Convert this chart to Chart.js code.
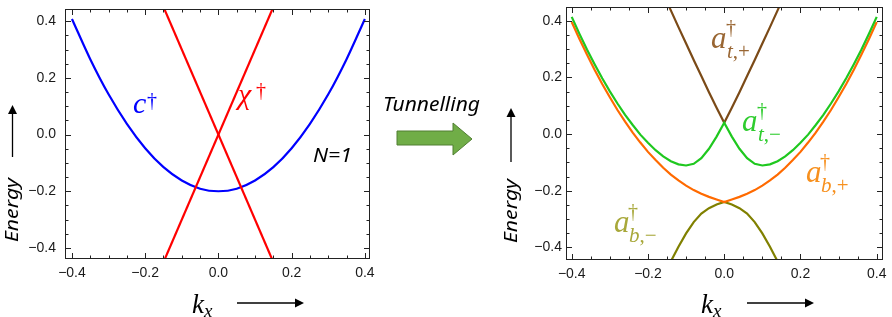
<!DOCTYPE html>
<html>
<head>
<meta charset="utf-8">
<script src="https://cdn.jsdelivr.net/npm/chart.js@4.4.1/dist/chart.umd.min.js"></script>
<style>
  html, body { margin: 0; padding: 0; background: #fff; }
  #wrap { position: relative; width: 892px; height: 317px; overflow: hidden; }
  canvas { position: absolute; top: 0; }
  #left { left: 0; }
  #right { left: 500px; }
  #notes { position: absolute; left: 0; top: 0; }
</style>
</head>
<body>
<div id="wrap">
  <canvas id="left" width="380" height="317"></canvas>
  <canvas id="right" width="392" height="317"></canvas>
  <svg id="notes" width="892" height="317">
    <!-- axis arrows -->
    <g stroke="#000" stroke-width="1.3" fill="#000">
      <line x1="12.5" y1="157" x2="12.5" y2="113"/>
      <polygon points="12.5,105 8,114 17,114" stroke="none"/>
      <line x1="511" y1="162" x2="511" y2="116"/>
      <polygon points="511,108 506.5,117 515.5,117" stroke="none"/>
      <line x1="237" y1="303" x2="296" y2="303"/>
      <polygon points="304,303 295,298.5 295,307.5" stroke="none"/>
      <line x1="747" y1="303" x2="806" y2="303"/>
      <polygon points="814,303 805,298.5 805,307.5" stroke="none"/>
    </g>
    <g font-family="Noto Sans" font-style="italic" fill="#000">
      <text x="0" y="0" font-size="18" textLength="64" lengthAdjust="spacingAndGlyphs" transform="translate(18,242) rotate(-90)">Energy</text>
      <text x="0" y="0" font-size="18" textLength="64" lengthAdjust="spacingAndGlyphs" transform="translate(517,243) rotate(-90)">Energy</text>
      <text x="383" y="111" font-size="20" textLength="97" lengthAdjust="spacingAndGlyphs">Tunnelling</text>
      <text x="313" y="162" font-size="20" textLength="39" lengthAdjust="spacingAndGlyphs">N=1</text>
    </g>
    <polygon points="397,131 453,131 453,123 472,139 453,155 453,145 397,145" fill="#70ad47" stroke="#507e32" stroke-width="1"/>
    <g font-family="Liberation Serif" font-style="italic">
      <text x="192" y="313" font-size="27" fill="#000">k<tspan font-size="19" dy="4">x</tspan></text>
      <text x="701" y="313" font-size="27" fill="#000">k<tspan font-size="19" dy="4">x</tspan></text>

      <text x="133" y="113" font-size="30" fill="#0000ff">c</text>
      <text x="147" y="107" font-size="20" font-style="normal" fill="#0000ff">†</text>
      <text x="238" y="104" font-size="30" fill="#ff0000">χ</text>
      <text x="256" y="97" font-size="20" font-style="normal" fill="#ff0000">†</text>

      <text x="711" y="48" font-size="31" fill="#996633">a</text>
      <text x="726" y="34" font-size="20" font-style="normal" fill="#996633">†</text>
      <text x="727" y="58" font-size="21" fill="#996633">t<tspan font-style="normal">,+</tspan></text>

      <text x="742" y="131" font-size="31" fill="#2ecc2e">a</text>
      <text x="757" y="117" font-size="20" font-style="normal" fill="#2ecc2e">†</text>
      <text x="758" y="141" font-size="21" fill="#2ecc2e">t<tspan font-style="normal">,−</tspan></text>

      <text x="806" y="182" font-size="31" fill="#f7901e">a</text>
      <text x="820" y="168" font-size="20" font-style="normal" fill="#f7901e">†</text>
      <text x="821" y="192" font-size="21" fill="#f7901e">b<tspan font-style="normal">,+</tspan></text>

      <text x="614" y="232" font-size="31" fill="#a8a83a">a</text>
      <text x="628" y="218" font-size="20" font-style="normal" fill="#a8a83a">†</text>
      <text x="629" y="242" font-size="21" fill="#a8a83a">b<tspan font-style="normal">,−</tspan></text>
    </g>
  </svg>
</div>
<script>
// frame ticks
const tickMajor = [-0.4, -0.2, 0, 0.2, 0.4];
const tickMinor = [-0.35, -0.3, -0.25, -0.15, -0.1, -0.05, 0.05, 0.1, 0.15, 0.25, 0.3, 0.35];

// left panel (N=1, no tunnelling)
const kLeft = [-0.40, -0.35, -0.30, -0.25, -0.20, -0.15, -0.10, -0.05, 0, 0.05, 0.10, 0.15, 0.20, 0.25, 0.30, 0.35, 0.40];
const cBand = [0.408, 0.266, 0.142, 0.038, -0.048, -0.115, -0.162, -0.191, -0.200, -0.191, -0.162, -0.115, -0.048, 0.038, 0.142, 0.266, 0.408];
const chiK = [-0.16, 0.16];
const chiRise = [-0.48, 0.48];
const chiFall = [0.48, -0.48];

// right panel (with tunnelling)
const kRight = [-0.40, -0.38, -0.36, -0.34, -0.32, -0.30, -0.28, -0.26, -0.24, -0.22, -0.20, -0.18, -0.16, -0.14, -0.12, -0.10, -0.08, -0.06, -0.04, -0.02, 0,
                0.02, 0.04, 0.06, 0.08, 0.10, 0.12, 0.14, 0.16, 0.18, 0.20, 0.22, 0.24, 0.26, 0.28, 0.30, 0.32, 0.34, 0.36, 0.38, 0.40];
const bPlus = [0.396, 0.337, 0.281, 0.227, 0.177, 0.130, 0.085, 0.044, 0.005, -0.030, -0.063, -0.092, -0.119, -0.143, -0.164, -0.182, -0.198, -0.211, -0.222, -0.231, -0.240,
               -0.231, -0.222, -0.211, -0.198, -0.182, -0.164, -0.143, -0.119, -0.092, -0.063, -0.030, 0.005, 0.044, 0.085, 0.130, 0.177, 0.227, 0.281, 0.337, 0.396];
const tMinus = [0.414, 0.355, 0.299, 0.247, 0.197, 0.151, 0.108, 0.068, 0.032, -0.002, -0.031, -0.057, -0.079, -0.096, -0.107, -0.111, -0.105, -0.085, -0.052, -0.009, 0.040,
                -0.009, -0.052, -0.085, -0.105, -0.111, -0.107, -0.096, -0.079, -0.057, -0.031, -0.002, 0.032, 0.068, 0.108, 0.151, 0.197, 0.247, 0.299, 0.355, 0.414];
const kInner = [-0.16, -0.14, -0.12, -0.10, -0.08, -0.06, -0.04, -0.02, 0, 0.02, 0.04, 0.06, 0.08, 0.10, 0.12, 0.14, 0.16];
const tPlus = [0.496, 0.437, 0.378, 0.320, 0.262, 0.205, 0.148, 0.093, 0.040, 0.093, 0.148, 0.205, 0.262, 0.320, 0.378, 0.437, 0.496];
const bMinus = [-0.504, -0.450, -0.398, -0.351, -0.311, -0.281, -0.262, -0.249, -0.240, -0.249, -0.262, -0.281, -0.311, -0.351, -0.398, -0.450, -0.504];

function pts(xs, ys) {
    return xs.map((x, i) => ({ x: x, y: ys[i] }));
}

function fmt(v) {
    return (v < 0 ? "\u2212" : "") + Math.abs(v).toFixed(1);
}

// mathematica style frame with inward ticks on all sides
const framePlugin = {
    id: "frame",
    afterDatasetsDraw(chart) {
        const ctx = chart.ctx;
        const a = chart.chartArea;
        const xs = chart.scales.x;
        const ys = chart.scales.y;
        ctx.save();
        ctx.strokeStyle = "#222";
        ctx.lineWidth = 1;
        ctx.strokeRect(Math.round(a.left) + 0.5, Math.round(a.top) + 0.5,
                       Math.round(a.right - a.left) - 1, Math.round(a.bottom - a.top) - 1);
        ctx.beginPath();
        const all = tickMajor.map(v => [v, 6]).concat(tickMinor.map(v => [v, 3.5]));
        all.forEach(([v, len]) => {
            const px = Math.round(xs.getPixelForValue(v)) + 0.5;
            ctx.moveTo(px, a.bottom); ctx.lineTo(px, a.bottom - len);
            ctx.moveTo(px, a.top); ctx.lineTo(px, a.top + len);
            const py = Math.round(ys.getPixelForValue(v)) + 0.5;
            ctx.moveTo(a.left, py); ctx.lineTo(a.left + len, py);
            ctx.moveTo(a.right, py); ctx.lineTo(a.right - len, py);
        });
        ctx.stroke();
        ctx.restore();
    }
};

function axis(min, max, size, pad, isY) {
    return {
        type: "linear",
        min: min,
        max: max,
        grid: { display: false, drawTicks: false },
        border: { display: false },
        afterBuildTicks: s => { s.ticks = tickMajor.map(v => ({ value: v })); },
        afterFit: s => {
            if (isY) s.width = size; else s.height = size;
            s.paddingTop = 0; s.paddingBottom = 0; s.paddingLeft = 0; s.paddingRight = 0;
        },
        ticks: {
            padding: pad,
            color: "#1a1a1a",
            font: { family: "Liberation Sans", size: 14 },
            maxRotation: 0,
            autoSkip: false,
            callback: v => fmt(v)
        }
    };
}

function line(data, color, extra) {
    return Object.assign({
        data: data,
        borderColor: color,
        borderWidth: 2.2,
        pointRadius: 0,
        fill: false,
        tension: 0,
        clip: 0
    }, extra || {});
}

function opts(xr, yr, yWidth, xHeight, padding, yPad) {
    return {
        responsive: false,
        animation: false,
        events: [],
        layout: { padding: padding },
        plugins: { legend: { display: false }, tooltip: { enabled: false } },
        scales: {
            x: axis(xr[0], xr[1], xHeight, 6, false),
            y: axis(yr[0], yr[1], yWidth, yPad, true)
        }
    };
}

new Chart(document.getElementById("left"), {
    type: "line",
    data: {
        datasets: [
            line(pts(chiK, chiRise), "#ff0000"),
            line(pts(chiK, chiFall), "#ff0000"),
            line(pts(kLeft, cBand), "#0000ff", { cubicInterpolationMode: "monotone" })
        ]
    },
    options: opts([-0.419, 0.414], [-0.439, 0.443], 65, 58, { left: 0, right: 10, top: 9, bottom: 0 }, 9),
    plugins: [framePlugin]
});

new Chart(document.getElementById("right"), {
    type: "line",
    data: {
        datasets: [
            line(pts(kRight, tMinus), "#1fc81f"),
            line(pts(kInner, tPlus), "#7b4a17"),
            line(pts(kRight, bPlus), "#ff6a00"),
            line(pts(kInner, bMinus), "#808000")
        ]
    },
    options: opts([-0.415, 0.4165], [-0.445, 0.449], 66, 57, { left: 0, right: 9, top: 7, bottom: 0 }, 4),
    plugins: [framePlugin]
});
</script>
</body>
</html>
